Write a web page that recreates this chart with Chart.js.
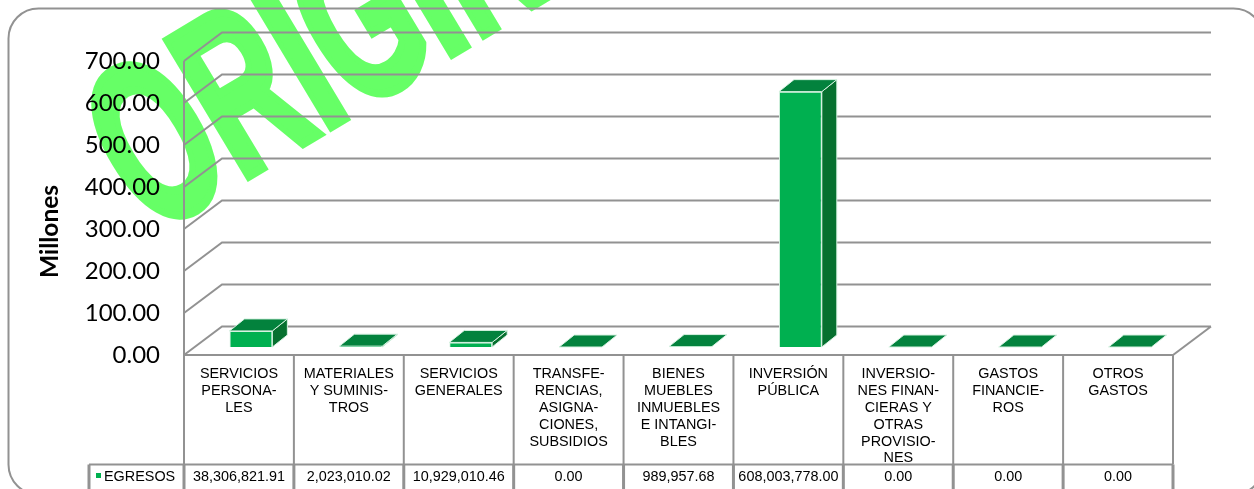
<!DOCTYPE html>
<html lang="es">
<head>
    <meta charset="UTF-8">
    <title>Egresos</title>
    <style>
        html, body { margin: 0; padding: 0; background: #fff; overflow: hidden; }
        canvas { display: block; }
    </style>
</head>
<body>
    <canvas id="myChart" width="1254" height="489"></canvas>
    <script src="https://cdn.jsdelivr.net/npm/chart.js@4"></script>
    <script>
        var categories = [
            ["SERVICIOS", "PERSONA-", "LES"],
            ["MATERIALES", "Y SUMINIS-", "TROS"],
            ["SERVICIOS", "GENERALES"],
            ["TRANSFE-", "RENCIAS,", "ASIGNA-", "CIONES,", "SUBSIDIOS"],
            ["BIENES", "MUEBLES", "INMUEBLES", "E INTANGI-", "BLES"],
            ["INVERSIÓN", "PÚBLICA"],
            ["INVERSIO-", "NES FINAN-", "CIERAS Y", "OTRAS", "PROVISIO-", "NES"],
            ["GASTOS", "FINANCIE-", "ROS"],
            ["OTROS", "GASTOS"]
        ];
        var egresos = [38306821.91, 2023010.02, 10929010.46, 0, 989957.68, 608003778.00, 0, 0, 0];
        var seriesName = "EGRESOS";
        var yAxisTitle = "Millones";
        var watermarkText = "ORIGINAL";

        var lineColor = "#929292";
        var frontColor = "#00B050";
        var topColor = "#03823D";
        var sideColor = "#06702F";
        var edgeColor = "#D6F2E1";

        // depth of the fake 3d box
        var wallX = 38, wallY = 28.5;
        var barShiftX = 12, barShiftY = 8;
        var barDepthX = 15, barDepthY = 12;
        var tableRow = 464.5;

        function money(v) {
            return v.toLocaleString("en-US", { minimumFractionDigits: 2, maximumFractionDigits: 2 });
        }

        function poly(ctx, pts, fill, stroke) {
            ctx.beginPath();
            ctx.moveTo(pts[0][0], pts[0][1]);
            for (var i = 1; i < pts.length; i++) ctx.lineTo(pts[i][0], pts[i][1]);
            ctx.closePath();
            ctx.fillStyle = fill;
            ctx.fill();
            ctx.strokeStyle = stroke;
            ctx.lineWidth = 1;
            ctx.stroke();
        }

        var backdrop = {
            id: "backdrop",
            beforeDraw: function (chart) {
                var ctx = chart.ctx;
                ctx.save();
                ctx.fillStyle = "#fff";
                ctx.fillRect(0, 0, chart.width, chart.height);

                // watermark sits behind everything, squeezed and fattened with a stroke
                ctx.save();
                ctx.translate(151, 235);
                ctx.rotate(-31 * Math.PI / 180);
                ctx.scale(0.58, 1);
                ctx.font = "bold 230px 'Liberation Sans'";
                ctx.textBaseline = "alphabetic";
                ctx.fillStyle = "#66FF66";
                ctx.strokeStyle = "#66FF66";
                ctx.lineWidth = 9;
                ctx.lineJoin = "miter";
                ctx.fillText(watermarkText, 0, 0);
                ctx.strokeText(watermarkText, 0, 0);
                ctx.restore();

                ctx.beginPath();
                ctx.roundRect(8.5, 8.5, 1255, 486, 30);
                ctx.strokeStyle = lineColor;
                ctx.lineWidth = 2;
                ctx.stroke();
                ctx.restore();
            }
        };

        var box3d = {
            id: "box3d",
            beforeDatasetsDraw: function (chart) {
                var ctx = chart.ctx;
                var y = chart.scales.y;
                var area = chart.chartArea;
                ctx.save();
                ctx.strokeStyle = lineColor;
                ctx.lineWidth = 2;
                ctx.beginPath();
                y.ticks.forEach(function (t) {
                    var py = y.getPixelForValue(t.value);
                    ctx.moveTo(area.left, py);
                    ctx.lineTo(area.left + wallX, py - wallY);
                    ctx.lineTo(area.right + wallX, py - wallY);
                });
                ctx.moveTo(area.left, area.top);
                ctx.lineTo(area.left, area.bottom);
                ctx.lineTo(area.right, area.bottom);
                ctx.lineTo(area.right + wallX, area.bottom - wallY);
                ctx.stroke();

                // side and top faces, then the library paints the front
                ctx.translate(barShiftX, -barShiftY);
                chart.getDatasetMeta(0).data.forEach(function (bar) {
                    var l = bar.x - bar.width / 2, r = bar.x + bar.width / 2;
                    var t = bar.y, b = bar.base;
                    if (b - t > 0.5) {
                        poly(ctx, [[r, t], [r + barDepthX, t - barDepthY], [r + barDepthX, b - barDepthY], [r, b]], sideColor, edgeColor);
                    }
                    poly(ctx, [[l, t], [r, t], [r + barDepthX, t - barDepthY], [l + barDepthX, t - barDepthY]], topColor, edgeColor);
                });
            },
            afterDatasetsDraw: function (chart) {
                chart.ctx.restore();
            }
        };

        var dataTable = {
            id: "dataTable",
            afterDraw: function (chart) {
                var ctx = chart.ctx;
                var area = chart.chartArea;
                var x = chart.scales.x;
                var step = (area.right - area.left) / categories.length;
                var left = area.left - 95;
                var h = chart.height;
                ctx.save();
                ctx.strokeStyle = lineColor;
                ctx.lineWidth = 2;
                ctx.beginPath();
                for (var i = 0; i <= categories.length; i++) {
                    var px = area.left + i * step;
                    ctx.moveTo(px, area.bottom);
                    ctx.lineTo(px, tableRow);
                }
                ctx.moveTo(left, tableRow);
                ctx.lineTo(area.right, tableRow);
                ctx.stroke();
                ctx.lineWidth = 3;
                ctx.beginPath();
                ctx.moveTo(left, tableRow);
                ctx.lineTo(left, h);
                for (var k = 0; k <= categories.length; k++) {
                    ctx.moveTo(area.left + k * step, tableRow);
                    ctx.lineTo(area.left + k * step, h);
                }
                ctx.stroke();

                ctx.fillStyle = frontColor;
                ctx.fillRect(96, 473, 5, 5);
                ctx.fillStyle = "#000";
                ctx.font = "14.4px 'Liberation Sans'";
                ctx.textBaseline = "middle";
                ctx.textAlign = "left";
                ctx.fillText(seriesName, 104, 477);
                ctx.textAlign = "center";
                egresos.forEach(function (v, i) {
                    ctx.fillText(money(v), x.getPixelForValue(i), 477);
                });

                // axis title
                ctx.translate(58, 231.5);
                ctx.rotate(-Math.PI / 2);
                ctx.font = "bold 24.5px Lato";
                ctx.textBaseline = "alphabetic";
                ctx.fillText(yAxisTitle, 0, 0);
                ctx.restore();
            }
        };

        new Chart(document.getElementById("myChart"), {
            type: "bar",
            data: {
                labels: categories,
                datasets: [{
                    label: seriesName,
                    data: egresos,
                    backgroundColor: frontColor,
                    borderColor: edgeColor,
                    borderWidth: 1,
                    categoryPercentage: 1,
                    barPercentage: 0.39
                }]
            },
            plugins: [backdrop, box3d, dataTable],
            options: {
                responsive: false,
                animation: false,
                layout: { padding: { top: 61, right: 81, left: 0, bottom: 0 } },
                plugins: { legend: { display: false }, tooltip: { enabled: false } },
                scales: {
                    x: {
                        grid: { display: false },
                        border: { display: false },
                        afterFit: function (scale) { scale.height = 134; },
                        ticks: {
                            autoSkip: false,
                            maxRotation: 0,
                            minRotation: 0,
                            padding: 3,
                            color: "#000",
                            font: { family: "'Liberation Sans'", size: 14.4, lineHeight: "16.8px" }
                        }
                    },
                    y: {
                        min: 0,
                        max: 700000000,
                        grid: { display: false },
                        border: { display: false },
                        afterFit: function (scale) { scale.width = 184; },
                        ticks: {
                            stepSize: 100000000,
                            padding: 16,
                            color: "#000",
                            font: { family: "Lato", size: 24 },
                            callback: function (v) { return (v / 1000000).toFixed(2); }
                        }
                    }
                }
            }
        });
    </script>
</body>
</html>
